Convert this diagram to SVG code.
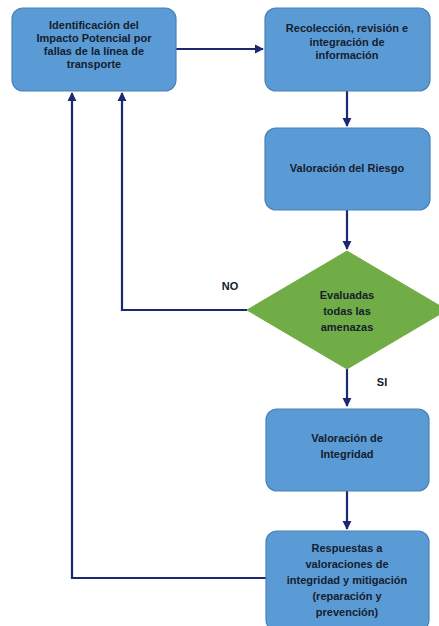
<svg xmlns="http://www.w3.org/2000/svg" width="439" height="626" viewBox="0 0 439 626">
<style>
.box{fill:#5b9bd5;stroke:#4a82b8;stroke-width:1.2}
.dia{fill:#70ad47;stroke:#70ad47}
.t{font-family:"Liberation Sans",Arial,sans-serif;font-weight:bold;font-size:11px;fill:#15202e;text-anchor:middle}
.c{fill:none;stroke:#1c2870;stroke-width:2.2}
</style>
<defs>
<marker id="ah" viewBox="0 0 10 10" refX="9" refY="5" markerWidth="4.2" markerHeight="4.2" orient="auto" markerUnits="strokeWidth">
<path d="M0,0 L10,5 L0,10 z" fill="#1c2870"/>
</marker>
</defs>
<rect width="439" height="626" fill="#ffffff"/>
<g id="connectors">
<path class="c" d="M176,49 H263" marker-end="url(#ah)"/>
<path class="c" d="M347,91 V126" marker-end="url(#ah)"/>
<path class="c" d="M347,210 V249" marker-end="url(#ah)"/>
<path class="c" d="M247,310 H122 V93" marker-end="url(#ah)"/>
<path class="c" d="M347,369 V406" marker-end="url(#ah)"/>
<path class="c" d="M347,491 V529" marker-end="url(#ah)"/>
<path class="c" d="M267,578 H72 V93" marker-end="url(#ah)"/>
<text class="t" x="230" y="290">NO</text>
<text class="t" x="382" y="386">SI</text>
</g>
<g id="n1">
<rect class="box" x="12" y="8" width="164" height="83" rx="11"/>
<text class="t" x="94" y="29">Identificación del</text>
<text class="t" x="94" y="42">Impacto Potencial por</text>
<text class="t" x="94" y="55">fallas de la línea de</text>
<text class="t" x="94" y="68">transporte</text>
</g>
<g id="n2">
<rect class="box" x="265" y="8" width="165" height="83" rx="11"/>
<text class="t" x="347" y="32">Recolección, revisión e</text>
<text class="t" x="347" y="46">integración de</text>
<text class="t" x="347" y="59">información</text>
</g>
<g id="n3">
<rect class="box" x="265" y="128" width="165" height="82" rx="11"/>
<text class="t" x="347" y="172">Valoración del Riesgo</text>
</g>
<g id="n4">
<polygon class="dia" points="347,251 447,310 347,369 247,310"/>
<text class="t" x="347" y="299">Evaluadas</text>
<text class="t" x="347" y="315">todas las</text>
<text class="t" x="347" y="331">amenazas</text>
</g>
<g id="n5">
<rect class="box" x="266" y="409" width="163" height="82" rx="11"/>
<text class="t" x="347" y="442">Valoración de</text>
<text class="t" x="347" y="458">Integridad</text>
</g>
<g id="n6">
<rect class="box" x="266" y="531" width="163" height="100" rx="11"/>
<text class="t" x="347" y="552">Respuestas a</text>
<text class="t" x="347" y="568">valoraciones de</text>
<text class="t" x="347" y="584">integridad y mitigación</text>
<text class="t" x="347" y="600">(reparación y</text>
<text class="t" x="347" y="616">prevención)</text>
</g>
</svg>
